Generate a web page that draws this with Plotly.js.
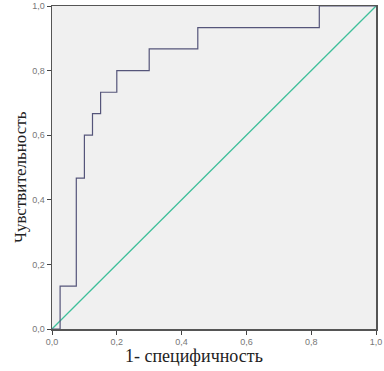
<!DOCTYPE html>
<html>
<head>
<meta charset="utf-8">
<script src="https://cdn.plot.ly/plotly-3.0.1.min.js"></script>
<style>html,body{margin:0;padding:0;background:#fff;}#chart{width:384px;height:371px;}</style>
</head>
<body>
<div id="chart"></div>
<script>
// ROC curve points (1 - specificity, sensitivity)
const fpr = [0, 0.025, 0.025, 0.075, 0.075, 0.1, 0.1, 0.125, 0.125, 0.15, 0.15, 0.2, 0.2, 0.3, 0.3, 0.45, 0.45, 0.825, 0.825, 1.0];
const tpr = [0, 0, 0.133, 0.133, 0.467, 0.467, 0.6, 0.6, 0.667, 0.667, 0.733, 0.733, 0.8, 0.8, 0.867, 0.867, 0.933, 0.933, 1.0, 1.0];
// Reference diagonal
const refX = [0, 1];
const refY = [0, 1];
const tickVals = [0, 0.2, 0.4, 0.6, 0.8, 1.0];
const tickText = ['0,0', '0,2', '0,4', '0,6', '0,8', '1,0'];
const xTitle = '1- специфичность';
const yTitle = 'Чувствительность';

const traces = [
  {x: refX, y: refY, mode: 'lines', line: {color: '#3fbf9a', width: 1.3}, hoverinfo: 'skip', showlegend: false},
  {x: fpr, y: tpr, mode: 'lines', line: {color: '#55557a', width: 1.2}, hoverinfo: 'skip', showlegend: false}
];

const axisCommon = {
  range: [0, 1],
  tickvals: tickVals,
  ticktext: tickText,
  ticks: 'outside',
  ticklen: 4,
  tickwidth: 1,
  tickcolor: '#444',
  showline: true,
  linecolor: '#555',
  linewidth: 1.5,
  mirror: true,
  showgrid: false,
  zeroline: false,
  tickfont: {family: 'Liberation Sans, Arial, sans-serif', size: 9, color: '#777'}
};

const titleFont = {family: 'Liberation Serif, Times New Roman, serif', color: '#222'};

const layout = {
  width: 384,
  height: 371,
  margin: {l: 52, r: 8, t: 6, b: 42},
  paper_bgcolor: '#ffffff',
  plot_bgcolor: '#f0f0f0',
  xaxis: Object.assign({}, axisCommon),
  yaxis: Object.assign({}, axisCommon),
  annotations: [
    {text: xTitle, xref: 'paper', yref: 'paper', x: 0.438, y: -0.084, xanchor: 'center', yanchor: 'middle',
     showarrow: false, font: Object.assign({size: 18}, titleFont)},
    {text: yTitle, xref: 'paper', yref: 'paper', x: -0.099, y: 0.47, xanchor: 'center', yanchor: 'middle',
     textangle: -90, showarrow: false, font: Object.assign({size: 17}, titleFont)}
  ]
};

Plotly.newPlot('chart', traces, layout, {staticPlot: true, displayModeBar: false});
</script>
</body>
</html>
